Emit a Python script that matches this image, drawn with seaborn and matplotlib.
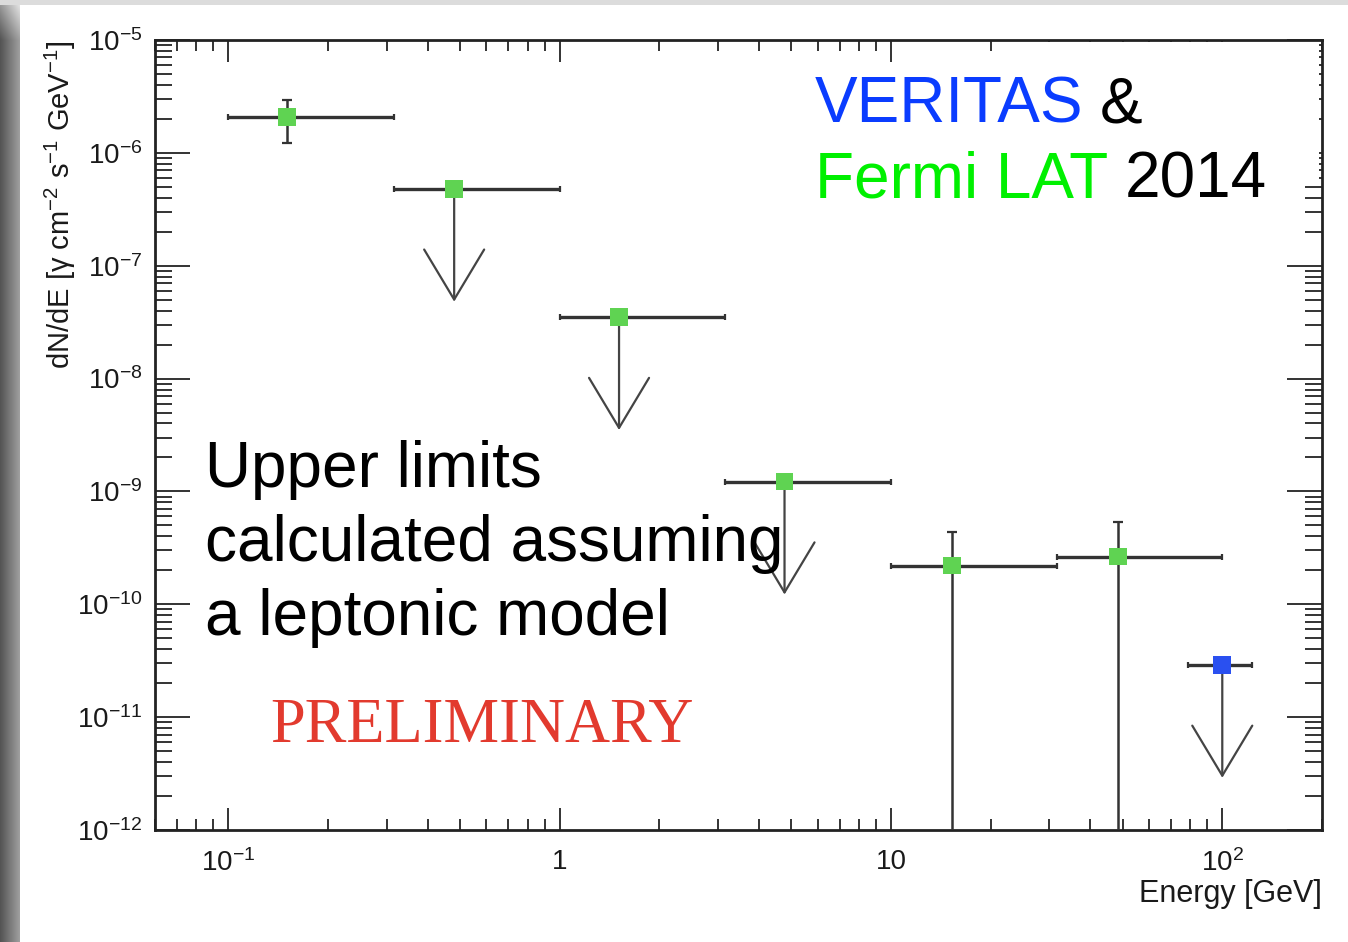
import numpy as np
import matplotlib
matplotlib.use("Agg")
import matplotlib.pyplot as plt
from matplotlib.patches import Rectangle
from matplotlib.ticker import FixedLocator, FixedFormatter, NullFormatter
import seaborn as sns
import pandas as pd

# ---------------- data ----------------
fermi_E = [0.15, 0.48, 1.51, 4.77, 15.3, 48.4]
fermi_E_lo = [0.1, 0.316, 1.0, 3.16, 10.0, 31.6]
fermi_E_hi = [0.316, 1.0, 3.16, 10.0, 31.6, 100.0]
fermi_flux = [2.08e-6, 4.8e-7, 3.5e-8, 1.22e-9, 2.2e-10, 2.64e-10]
fermi_flux_hi = [2.94e-6, np.nan, np.nan, np.nan, 4.38e-10, 5.38e-10]
fermi_flux_lo = [1.22e-6, np.nan, np.nan, np.nan, 0.0, 0.0]
fermi_ul = [False, True, True, True, False, False]

veritas_E = [100.0]
veritas_E_lo = [79.0]
veritas_E_hi = [123.0]
veritas_flux = [2.9e-11]
veritas_ul = [True]

ul_factor = 10.0  # arrows drop one decade

x_ticks = [0.1, 1, 10, 100]
x_tick_labels = [r"$10^{-1}$", "1", "10", r"$10^{2}$"]
y_exponents = [-12, -11, -10, -9, -8, -7, -6, -5]
xlim = (0.06, 200)
ylim = (1e-12, 1e-5)

# ---------------- style ----------------
sns.set_theme(style="ticks")
plt.rcParams["font.family"] = ["Liberation Sans", "DejaVu Sans"]
plt.rcParams["mathtext.fontset"] = "custom"
plt.rcParams["mathtext.rm"] = "Liberation Sans"
plt.rcParams["mathtext.it"] = "Liberation Sans:italic"
plt.rcParams["mathtext.bf"] = "Liberation Sans:bold"

W, H = 1348, 942
fig = plt.figure(figsize=(W / 100, H / 100), dpi=100)
fig.patch.set_facecolor("white")

# frame decoration (grey shadow left, light band top)
band_w = 20
g = np.linspace(0.33, 0.62, band_w)[None, :].repeat(H, axis=0)
rows = np.arange(H)[:, None]
g = np.clip(g + np.clip((40 - rows) / 40.0, 0, 1) * 0.3, 0, 1)
img = np.dstack([g, g, g])
fig.figimage(img, xo=0, yo=0, origin="upper", zorder=1)
fig.patches.append(Rectangle((0, 1 - 5 / H), 1, 5 / H, transform=fig.transFigure,
                             facecolor="#dcdcdc", edgecolor="none", zorder=5))

ax = fig.add_axes([155 / W, 1 - 830 / H, 1167 / W, 790 / H])
ax.set_xscale("log")
ax.set_yscale("log")
ax.set_xlim(*xlim)
ax.set_ylim(*ylim)

ink = "#333333"

# fermi error bars
fe = np.array(fermi_E); ff = np.array(fermi_flux)
xerr = [fe - np.array(fermi_E_lo), np.array(fermi_E_hi) - fe]
ax.errorbar(fe, ff, xerr=xerr, fmt="none", ecolor=ink, elinewidth=2.4,
            capsize=2.5, capthick=1.6, zorder=3)
mask = ~np.array(fermi_ul)
yerr = [ff[mask] - np.array(fermi_flux_lo)[mask], np.array(fermi_flux_hi)[mask] - ff[mask]]
ax.errorbar(fe[mask], ff[mask], yerr=yerr, fmt="none", ecolor=ink, elinewidth=1.8,
            capsize=3.5, capthick=1.6, zorder=3)

# veritas error bars
ve = np.array(veritas_E); vf = np.array(veritas_flux)
ax.errorbar(ve, vf, xerr=[ve - np.array(veritas_E_lo), np.array(veritas_E_hi) - ve],
            fmt="none", ecolor=ink, elinewidth=2.4, capsize=2.5, capthick=1.6, zorder=3)

# upper-limit arrows
def ul_arrow(x, y):
    ax.annotate("", xy=(x, y / ul_factor), xytext=(x, y),
                arrowprops=dict(arrowstyle="->,head_length=2.5,head_width=1.5",
                                mutation_scale=14.4, lw=1.6, color="#444444",
                                shrinkA=0, shrinkB=0), zorder=3)

for x, y, u in zip(fermi_E, fermi_flux, fermi_ul):
    if u:
        ul_arrow(x, y)
for x, y, u in zip(veritas_E, veritas_flux, veritas_ul):
    if u:
        ul_arrow(x, y)

# markers via seaborn
df = pd.DataFrame({
    "E": fermi_E + veritas_E,
    "flux": fermi_flux + veritas_flux,
    "inst": ["Fermi LAT"] * len(fermi_E) + ["VERITAS"] * len(veritas_E),
})
sns.scatterplot(data=df, x="E", y="flux", hue="inst", marker="s", s=160,
                palette={"Fermi LAT": "#5fd352", "VERITAS": "#2a50f0"},
                linewidth=0, legend=False, ax=ax, zorder=4)

# axes styling
for sp in ax.spines.values():
    sp.set_linewidth(2.0)
    sp.set_color("#222222")
    sp.set_visible(True)

subs = np.arange(2, 10)
x_minor = [s * 10.0 ** e for e in range(-2, 3) for s in subs]
x_minor = [v for v in x_minor if xlim[0] <= v <= xlim[1]]
y_major = [10.0 ** e for e in y_exponents]
y_minor = [s * 10.0 ** e for e in y_exponents[:-1] for s in subs]

ax.xaxis.set_major_locator(FixedLocator(x_ticks))
ax.xaxis.set_major_formatter(FixedFormatter(x_tick_labels))
ax.xaxis.set_minor_locator(FixedLocator(x_minor))
ax.xaxis.set_minor_formatter(NullFormatter())
ax.yaxis.set_major_locator(FixedLocator(y_major))
ax.yaxis.set_major_formatter(FixedFormatter([rf"$10^{{{e}}}$" for e in y_exponents]))
ax.yaxis.set_minor_locator(FixedLocator(y_minor))
ax.yaxis.set_minor_formatter(NullFormatter())

ax.tick_params(axis="x", which="major", direction="in", length=16, width=1.4,
               top=True, bottom=True, colors="#333333", labelsize=20, pad=14,
               labelcolor="#1a1a1a")
ax.tick_params(axis="x", which="minor", direction="in", length=8, width=1.4,
               top=True, bottom=True, colors="#333333")
ax.tick_params(axis="y", which="major", direction="in", length=25, width=1.4,
               left=True, right=True, colors="#333333", labelsize=20, pad=9,
               labelcolor="#1a1a1a")
ax.tick_params(axis="y", which="minor", direction="in", length=12, width=1.4,
               left=True, right=True, colors="#333333")
ax.grid(False)

ax.set_xlabel("Energy [GeV]", fontsize=22, loc="right", color="#1a1a1a")
ax.xaxis.set_label_coords(1.0, -0.062)
ax.xaxis.label.set_va("top")
ax.set_ylabel(r"dN/dE [γ cm$^{-2}$ s$^{-1}$ GeV$^{-1}$]", fontsize=21, loc="top",
              color="#1a1a1a")
ax.yaxis.set_label_coords(-0.066, 1.0)

# white overlay box (legend-like annotation pasted on top)
ax.add_patch(Rectangle((0.754, 0.816), 0.2434, 0.181, transform=ax.transAxes,
                       facecolor="white", edgecolor="none", zorder=2.6))

# annotations
ax.text(0.5656, 0.895, "VERITAS", transform=ax.transAxes, fontsize=46,
        color="#0a3cff", va="baseline", ha="left", zorder=5)
ax.text(0.8098, 0.895, "&", transform=ax.transAxes, fontsize=46,
        color="black", va="baseline", ha="left", zorder=5)
ax.text(0.5656, 0.800, "Fermi LAT", transform=ax.transAxes, fontsize=46,
        color="#00f000", va="baseline", ha="left", zorder=5)
ax.text(0.8312, 0.800, "2014", transform=ax.transAxes, fontsize=46,
        color="black", va="baseline", ha="left", zorder=5)

ax.text(0.0428, 0.362, "Upper limits\ncalculated assuming\na leptonic model",
        transform=ax.transAxes, fontsize=46, color="black", va="center",
        ha="left", linespacing=1.3, zorder=5)

ax.text(0.280, 0.131, "PRELIMINARY", transform=ax.transAxes, fontsize=45,
        color="#e23a2e", family="Liberation Serif", va="center", ha="center",
        zorder=5)

fig.savefig("out.png", dpi=100, facecolor="white")
